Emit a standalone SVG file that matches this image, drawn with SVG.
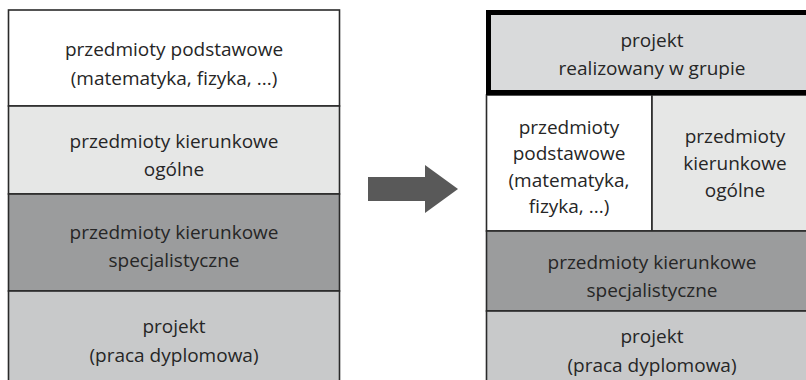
<svg xmlns="http://www.w3.org/2000/svg" width="806" height="380" viewBox="0 0 806 380">
<style>
.b{stroke:#2a2a2a;stroke-width:1.6}
.t{font-family:"Open Sans","Liberation Sans",sans-serif;font-size:19px;fill:#262626;text-anchor:middle}
</style>
<rect width="806" height="380" fill="#ffffff"/>
<g id="left-podstawowe">
<rect class="b" x="8.5" y="10" width="331" height="96" fill="#ffffff"/>
<text class="t" x="174" y="56">przedmioty podstawowe</text>
<text class="t" x="174" y="85">(matematyka, fizyka, ...)</text>
</g>
<g id="left-ogolne">
<rect class="b" x="8.5" y="106" width="331" height="88" fill="#e6e7e6"/>
<text class="t" x="174" y="148">przedmioty kierunkowe</text>
<text class="t" x="174" y="176">ogólne</text>
</g>
<g id="left-spec">
<rect class="b" x="8.5" y="194" width="331" height="97" fill="#9b9c9d"/>
<text class="t" x="174" y="239">przedmioty kierunkowe</text>
<text class="t" x="174" y="267">specjalistyczne</text>
</g>
<g id="left-projekt">
<rect class="b" x="8.5" y="291" width="331" height="100" fill="#c8c9ca"/>
<text class="t" x="174" y="333">projekt</text>
<text class="t" x="174" y="362">(praca dyplomowa)</text>
</g>
<g id="connectors">
<polygon points="368,177 425,177 425,165 458,189 425,213 425,201 368,201" fill="#595959"/>
</g>
<g id="right-podstawowe">
<rect class="b" x="486.5" y="95" width="165.5" height="136" fill="#ffffff"/>
<text class="t" x="569" y="134">przedmioty</text>
<text class="t" x="569" y="160">podstawowe</text>
<text class="t" x="569" y="187">(matematyka,</text>
<text class="t" x="569" y="213">fizyka, ...)</text>
</g>
<g id="right-ogolne">
<rect class="b" x="652" y="95" width="166" height="136" fill="#e6e7e6"/>
<text class="t" x="735" y="143">przedmioty</text>
<text class="t" x="735" y="170">kierunkowe</text>
<text class="t" x="735" y="197">ogólne</text>
</g>
<g id="right-spec">
<rect class="b" x="486.5" y="231" width="331.5" height="80" fill="#9b9c9d"/>
<text class="t" x="652" y="269">przedmioty kierunkowe</text>
<text class="t" x="652" y="297">specjalistyczne</text>
</g>
<g id="right-projekt">
<rect class="b" x="486.5" y="311" width="331.5" height="80" fill="#c8c9ca"/>
<text class="t" x="652" y="343">projekt</text>
<text class="t" x="652" y="372">(praca dyplomowa)</text>
</g>
<g id="right-grupa">
<rect x="488.5" y="12.5" width="330" height="80" fill="#d9dadb" stroke="#000000" stroke-width="5"/>
<text class="t" x="652" y="47">projekt</text>
<text class="t" x="652" y="75">realizowany w grupie</text>
</g>
</svg>
